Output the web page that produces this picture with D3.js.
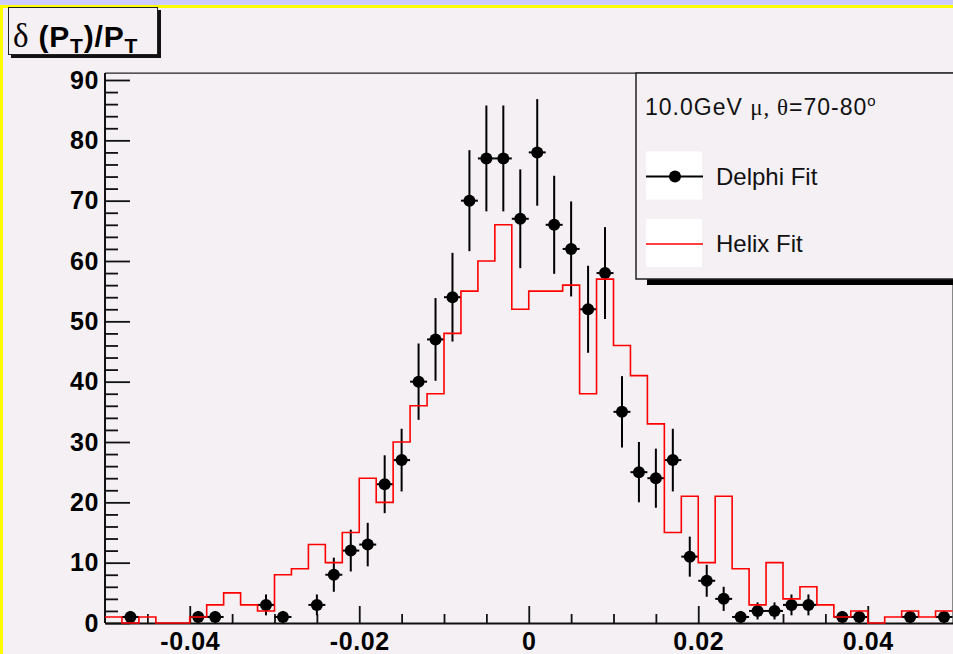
<!DOCTYPE html>
<html>
<head>
<meta charset="utf-8">
<script src="https://cdn.jsdelivr.net/npm/d3@7"></script>
<style>
  body { margin: 0; background: #f4f0f4; }
  svg { display: block; }
  .tick text { font-family: "Liberation Sans", Arial, sans-serif; font-weight: bold; font-size: 25px; letter-spacing: 0.6px; fill: #000; }
</style>
</head>
<body>
<svg id="chart"></svg>
<script>
// bins of 0.002 from -0.05 to 0.05
var binEdgesStart = -0.05, binWidth = 0.002;

// Delphi Fit counts per bin (0 = empty bin, not drawn)
var delphiCounts = [0, 1, 0, 0, 0, 1, 1, 0, 0, 3,
                    1, 0, 3, 8, 12, 13, 23, 27, 40, 47,
                    54, 70, 77, 77, 67, 78, 66, 62, 52, 58,
                    35, 25, 24, 27, 11, 7, 4, 1, 2, 2,
                    3, 3, 0, 1, 1, 0, 0, 1, 0, 1];

// Helix Fit counts per bin
var helixCounts = [1, 0, 1, 0, 0, 1, 3, 5, 3, 2,
                   8, 9, 13, 10, 15, 24, 20, 30, 36, 38,
                   48, 55, 60, 66, 52, 55, 55, 56, 38, 57,
                   46, 41, 33, 15, 21, 10, 21, 9, 3, 10,
                   4, 6, 3, 1, 2, 0, 1, 2, 1, 2];

var xMajorTicks = [-0.04, -0.02, 0, 0.02, 0.04];
var xTickLabels = ["-0.04", "-0.02", "0", "0.02", "0.04"];
var xMinorTicks = [-0.045, -0.035, -0.03, -0.025, -0.015, -0.01, -0.005,
                   0.005, 0.01, 0.015, 0.025, 0.03, 0.035, 0.045];
var yMajorTicks = [0, 10, 20, 30, 40, 50, 60, 70, 80, 90];
var yMinorTicks = d3.range(2, 91, 2).filter(v => v % 10 != 0);

var W = 953, H = 654;
var svg = d3.select('#chart').attr('width', W).attr('height', H);

// canvas background + window highlight
svg.append('rect').attr('width', W).attr('height', H).attr('fill', '#f4f0f4');
svg.append('rect').attr('x', 0).attr('y', 0).attr('width', W).attr('height', 5).attr('fill', '#ccccff');
svg.append('rect').attr('x', 0).attr('y', 5).attr('width', W).attr('height', 3).attr('fill', '#ffff00');
svg.append('rect').attr('x', 0).attr('y', 5).attr('width', 3).attr('height', H).attr('fill', '#ffff00');

var x = d3.scaleLinear().domain([-0.05, 0.05]).range([105, 952.5]);
var y = d3.scaleLinear().domain([0, 90]).range([623, 80]);

// frame top and right
svg.append('line').attr('x1', 105).attr('x2', W).attr('y1', y(91.15)).attr('y2', y(91.15))
   .style('stroke', '#222').style('stroke-width', 1.2);
svg.append('line').attr('x1', x(0.05)).attr('x2', x(0.05)).attr('y1', y(91.15)).attr('y2', y(0))
   .style('stroke', '#888').style('stroke-width', 1);

// axes
var yMinor = d3.axisLeft(y).tickValues(yMinorTicks).tickFormat('').tickSizeInner(-13).tickSizeOuter(0);
svg.append('g').attr('transform', 'translate(105,0)').call(yMinor)
   .call(g => g.select('.domain').remove());
var yAxis = d3.axisLeft(y).tickValues(yMajorTicks).tickSizeInner(-25).tickSizeOuter(0).tickPadding(6);
var gy = svg.append('g').attr('transform', 'translate(105,0)').call(yAxis);
gy.select('.domain').attr('d', 'M0,' + y(91.15) + 'V' + y(0));

var xMinor = d3.axisBottom(x).tickValues(xMinorTicks).tickFormat('').tickSizeInner(-9).tickSizeOuter(0);
svg.append('g').attr('transform', 'translate(0,623)').call(xMinor)
   .call(g => g.select('.domain').remove());
var xAxis = d3.axisBottom(x).tickValues(xMajorTicks)
   .tickFormat((d, i) => xTickLabels[i]).tickSizeInner(-17).tickSizeOuter(0).tickPadding(9);
svg.append('g').attr('transform', 'translate(0,623)').call(xAxis);

svg.selectAll('.domain').style('stroke', '#111').style('stroke-width', 2);
svg.selectAll('.tick line').style('stroke', '#111').style('stroke-width', 1.8);

// Delphi Fit points with sqrt(N) errors
var pts = delphiCounts.map((v, i) => ({ c: binEdgesStart + binWidth * (i + 0.5), v: v }))
                      .filter(d => d.v > 0);
var gp = svg.append('g');
gp.selectAll('line.ey').data(pts).enter().append('line').attr('class', 'ey')
  .attr('x1', d => x(d.c)).attr('x2', d => x(d.c))
  .attr('y1', d => y(d.v - Math.sqrt(d.v))).attr('y2', d => y(d.v + Math.sqrt(d.v)))
  .style('stroke', 'black').style('stroke-width', 2);
gp.selectAll('line.ex').data(pts).enter().append('line').attr('class', 'ex')
  .attr('x1', d => x(d.c - binWidth / 2)).attr('x2', d => x(d.c + binWidth / 2))
  .attr('y1', d => y(d.v)).attr('y2', d => y(d.v))
  .style('stroke', 'black').style('stroke-width', 2);
gp.selectAll('circle').data(pts).enter().append('circle')
  .attr('cx', d => x(d.c)).attr('cy', d => y(d.v)).attr('r', 6)
  .attr('fill', 'black');

// Helix Fit histogram outline
var steps = helixCounts.map((v, i) => [binEdgesStart + binWidth * i, v]);
steps.push([binEdgesStart + binWidth * helixCounts.length, helixCounts[helixCounts.length - 1]]);
var stepLine = d3.line().x(d => x(d[0])).y(d => y(d[1])).curve(d3.curveStepAfter);
svg.append('path').datum(steps).attr('d', stepLine)
   .attr('fill', 'none').style('stroke', '#ff0000').style('stroke-width', 1.6);

// title box
svg.append('rect').attr('x', 11).attr('y', 54).attr('width', 150).attr('height', 4).attr('fill', '#111');
svg.append('rect').attr('x', 157).attr('y', 10).attr('width', 4).attr('height', 48).attr('fill', '#111');
svg.append('rect').attr('x', 8.5).attr('y', 7.5).attr('width', 149).attr('height', 47)
   .attr('fill', '#f4f0f4').style('stroke', '#222').style('stroke-width', 1);
var title = svg.append('text').attr('x', 13).attr('y', 47)
   .style('font-family', '"Liberation Sans", Arial, sans-serif').style('font-weight', 'bold')
   .style('font-size', '30px').style('letter-spacing', '0.8px');
title.append('tspan').style('font-family', '"Liberation Serif", "Times New Roman", serif')
   .style('font-weight', 'normal').style('font-size', '33px').text('δ');
title.append('tspan').text(' (P');
title.append('tspan').attr('dy', 6).style('font-size', '21px').text('T');
title.append('tspan').attr('dy', -6).text(')/P');
title.append('tspan').attr('dy', 6).style('font-size', '21px').text('T');

// legend
svg.append('rect').attr('x', 647).attr('y', 279).attr('width', 320).attr('height', 6).attr('fill', '#000');
svg.append('rect').attr('x', 636).attr('y', 73).attr('width', 330).attr('height', 206)
   .attr('fill', '#f4f0f4').style('stroke', '#222').style('stroke-width', 1.5);
var lt = svg.append('text').attr('x', 645).attr('y', 115)
   .style('font-family', '"Liberation Sans", Arial, sans-serif').style('font-size', '23px')
   .style('letter-spacing', '1px').attr('fill', '#111');
lt.append('tspan').text('10.0GeV ');
lt.append('tspan').style('font-family', '"Liberation Serif", serif').text('μ, θ');
lt.append('tspan').text('=70-80');
lt.append('tspan').attr('dy', -9).style('font-size', '15px').text('o');

var legendItems = ['Delphi Fit', 'Helix Fit'];
var legendY = [176.5, 244];
legendItems.forEach(function (name, i) {
    svg.append('rect').attr('x', 646).attr('y', legendY[i] - 25).attr('width', 56).attr('height', 48).attr('fill', '#ffffff');
    svg.append('line').attr('x1', 646).attr('x2', 703).attr('y1', legendY[i]).attr('y2', legendY[i])
       .style('stroke', i == 0 ? 'black' : '#ff0000').style('stroke-width', i == 0 ? 2 : 1.6);
    if (i == 0) {
        svg.append('circle').attr('cx', 675).attr('cy', legendY[i]).attr('r', 6).attr('fill', 'black');
    }
    svg.append('text').attr('x', 716).attr('y', legendY[i] + 8)
       .style('font-family', '"Liberation Sans", Arial, sans-serif').style('font-size', '24px').attr('fill', '#111')
       .text(name);
});
</script>
</body>
</html>
